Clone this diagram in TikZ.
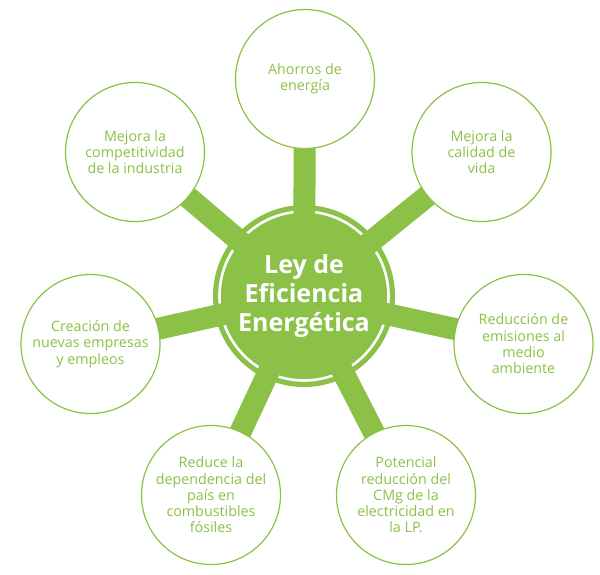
\documentclass[tikz,border=0pt]{standalone}
\usepackage{fontspec}
\setmainfont{Open Sans}
\usetikzlibrary{backgrounds}
\definecolor{leaf}{RGB}{139,193,71}
\begin{document}
\begin{tikzpicture}[x=1pt,y=-1pt,
  item/.style={circle, draw=leaf, line width=1.2pt, fill=white, minimum size=139pt, inner sep=0pt, text=leaf, align=center, font=\fontsize{14.3}{16.3}\selectfont},
  hub/.style={circle, minimum size=182pt, inner sep=0pt, text=white, align=center, font=\fontsize{25}{29}\selectfont\bfseries},
  bar/.style={draw=leaf, line width=22pt}]
\useasboundingbox (0,0) rectangle (600,574);
\node[hub] (c) at (304,296) {Ley de\\Eficiencia\\Energética};
\node[item] (a1) at (305,79) {Ahorros de\\energía};
\node[item] (a2) at (481.5,152) {Mejora la\\calidad de\\vida};
\node[item] (a3) at (523.5,344) {Reducción de\\emisiones al\\medio\\ambiente};
\node[item] (a4) at (406,495) {Potencial\\reducción del\\CMg de la\\electricidad en\\la LP.};
\node[item] (a5) at (211,495) {Reduce la\\dependencia del\\país en\\combustibles\\fósiles};
\node[item] (a6) at (90.5,344) {Creación de\\nuevas empresas\\y empleos};
\node[item] (a7) at (135,152) {Mejora la\\competitividad\\de la industria};
\begin{pgfonlayer}{background}
  \fill[leaf] (c.center) circle[radius=91pt];
  \draw[white, line width=2.6pt] (c.center) circle[radius=84.5pt];
  \foreach \n in {a1,a2,a3,a4,a5,a6,a7} \draw[bar] (c.center) -- (\n.center);
\end{pgfonlayer}
\end{tikzpicture}
\end{document}
